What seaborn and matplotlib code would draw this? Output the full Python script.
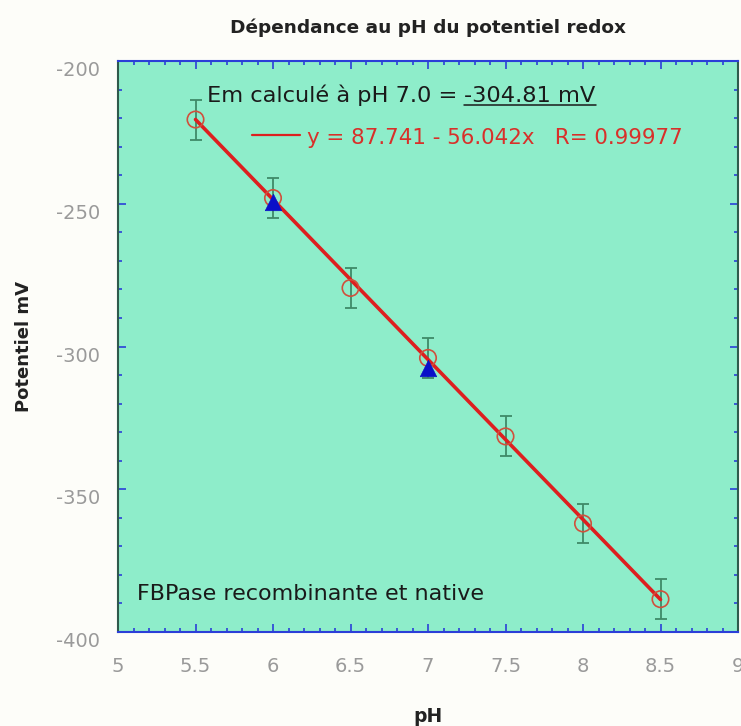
import numpy as np
import pandas as pd
import matplotlib
matplotlib.use("Agg")
import matplotlib.pyplot as plt
from matplotlib.ticker import MultipleLocator, FuncFormatter
import seaborn as sns

# Redox potential of FBPase versus pH
ph = [5.5, 6.0, 6.5, 7.0, 7.5, 8.0, 8.5]
potential_mv = [-220.5, -248.0, -279.5, -304.0, -331.5, -362.0, -388.5]
error_mv = [7, 7, 7, 7, 7, 7, 7]

# Native enzyme points
ph_native = [6.0, 7.0]
potential_native_mv = [-249.5, -307.5]

# Linear fit parameters
fit_intercept = 87.741
fit_slope = -56.042
fit_r = 0.99977
em_ph7_label = "-304.81 mV"

sns.set_theme(style="white")
plt.rcParams["font.family"] = ["DejaVu Sans"]

fig = plt.figure(figsize=(7.41, 7.26), dpi=100, facecolor="#fdfdf9")
ax = fig.add_axes([118 / 741, 1 - 632 / 726, (738 - 118) / 741, (632 - 61) / 726])
ax.set_facecolor("#8eedca")

df = pd.DataFrame({"pH": ph, "E": potential_mv, "err": error_mv})
df_nat = pd.DataFrame({"pH": ph_native, "E": potential_native_mv})

# fitted line from the stated equation
fit_x = np.array([ph[0], ph[-1]])
df_fit = pd.DataFrame({"pH": fit_x, "E": fit_intercept + fit_slope * fit_x})

# error bars: teal stems, red caps
eb = ax.errorbar(df["pH"], df["E"], yerr=df["err"], fmt="none",
                 ecolor="#3f8a68", elinewidth=1.3, capsize=4, capthick=1.3, zorder=2)
for cap in eb[1]:
    cap.set_color("#d0503c")

sns.lineplot(data=df_fit, x="pH", y="E", ax=ax, color="#dd1f1f", linewidth=2.6, zorder=3)
sns.scatterplot(data=df, x="pH", y="E", ax=ax, marker="o", s=140,
                facecolor="none", edgecolor="#d0503c", linewidth=1.2, zorder=4)
sns.scatterplot(data=df_nat, x="pH", y="E", ax=ax, marker="^", s=140,
                color="#0a10c8", edgecolor="#0a10c8", linewidth=0.5, zorder=5)

ax.set_xlim(5, 9)
ax.set_ylim(-400, -200)
ax.xaxis.set_major_locator(MultipleLocator(0.5))
ax.xaxis.set_minor_locator(MultipleLocator(0.1))
ax.yaxis.set_major_locator(MultipleLocator(50))
ax.yaxis.set_minor_locator(MultipleLocator(10))
ax.xaxis.set_major_formatter(FuncFormatter(lambda v, p: f"{v:g}"))
ax.yaxis.set_major_formatter(FuncFormatter(lambda v, p: f"{v:g}"))

ax.tick_params(which="both", direction="in", top=True, right=True,
               bottom=True, left=True, colors="#2b3fd8")
ax.tick_params(which="major", length=6, width=1.2)
ax.tick_params(which="minor", length=3, width=1.2)
ax.tick_params(axis="x", which="major", pad=18, labelsize=14, labelcolor="#9a9a9a")
ax.tick_params(axis="y", which="major", pad=13, labelsize=14, labelcolor="#9a9a9a")

for side in ["top", "bottom"]:
    ax.spines[side].set_color("#2b3fd8")
    ax.spines[side].set_linewidth(1.5)
for side in ["left", "right"]:
    ax.spines[side].set_color("#2f5a4c")
    ax.spines[side].set_linewidth(1.5)

ax.set_xlabel("pH", fontsize=13.5, fontweight="bold", color="#222222")
ax.xaxis.set_label_coords(0.5, (632 - 707) / 571)
ax.xaxis.label.set_va("top")
ax.set_ylabel("Potentiel mV", fontsize=13, fontweight="bold", color="#222222")
ax.yaxis.set_label_coords((24 - 118) / 620, 0.5)
ax.yaxis.label.set_va("center")
fig.text(428 / 741, 1 - 28 / 726, "Dépendance au pH du potentiel redox",
         ha="center", va="center", fontsize=13.3, fontweight="bold", color="#222222")

# Em annotation, value underlined
em_y = -214.4
t1 = ax.text(5.574, em_y, "Em calculé à pH 7.0 = ", fontsize=16.2,
             color="#1a1a1a", va="baseline", ha="left")
fig.canvas.draw()
bb = t1.get_window_extent()
inv = ax.transData.inverted()
x2 = inv.transform((bb.x1, 0))[0]
t2 = ax.text(x2, em_y, em_ph7_label, fontsize=16.2, color="#1a1a1a",
             va="baseline", ha="left")
fig.canvas.draw()
bb2 = t2.get_window_extent()
ux0 = inv.transform((bb2.x0, 0))[0]
ux1 = inv.transform((bb2.x1, 0))[0]
ax.plot([ux0, ux1], [em_y - 1.1, em_y - 1.1], color="#1a1a1a", linewidth=1.1, zorder=6)

# fit legend entry
ax.plot([5.865, 6.175], [-225.9, -225.9], color="#dd1f1f", linewidth=1.6)
ax.text(6.219, -229.1,
        f"y = {fit_intercept:g} - {abs(fit_slope):g}x   R= {fit_r:g}",
        fontsize=15.4, color="#d8302a", va="baseline", ha="left")

ax.text(5.122, -388.8, "FBPase recombinante et native", fontsize=16,
        color="#1a1a1a", va="baseline", ha="left")

# y tick labels hang just below their ticks
fig.canvas.draw()
for lab in ax.get_yticklabels():
    lab.set_va("top")

fig.savefig("out.png", dpi=100, facecolor=fig.get_facecolor())
